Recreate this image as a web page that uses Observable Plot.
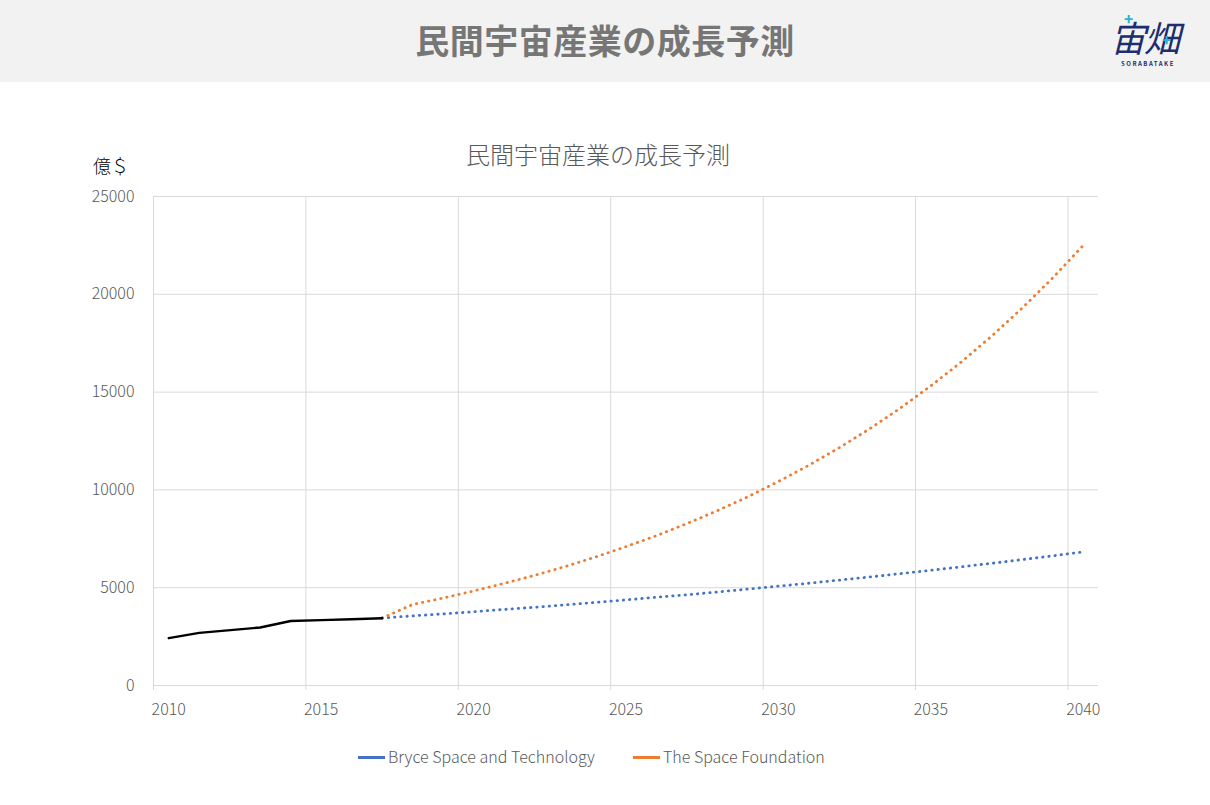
<!DOCTYPE html>
<html>
<head>
<meta charset="utf-8">
<script src="https://cdn.jsdelivr.net/npm/d3@7"></script>
<script src="https://cdn.jsdelivr.net/npm/@observablehq/plot@0.6"></script>
<style>
  html, body { margin: 0; padding: 0; background: #fff; }
  body { font-family: "Noto Sans CJK JP", "Noto Sans", sans-serif; }
  #page { position: relative; width: 1210px; height: 805px; overflow: hidden; }
  #header { position: absolute; left: 0; top: 0; width: 1210px; height: 82px; background: #f2f2f2; }
  #header h1 { margin: 0; position: absolute; left: 0; width: 1210px; top: 16px; text-align: center;
    font-size: 34px; line-height: 48px; font-weight: 700; color: #767676; letter-spacing: 0.5px; }
  #logo { position: absolute; left: 1112px; top: 14px; width: 76px; height: 58px; }
  #logo .kanji { position: absolute; left: 2px; top: 0; font-size: 36px; line-height: 44px; font-weight: 400;
    color: #1f2d6e; transform: skewX(-14deg); letter-spacing: -2px; }
  #logo .plus { position: absolute; color: #2bb3d4; font-weight: 900; font-size: 15px; line-height: 15px; }
  #logo .sub { position: absolute; left: 0; top: 45px; width: 72px; text-align: center; font-size: 6px;
    font-weight: 700; letter-spacing: 1.5px; color: #1f2d6e; }
  #ctitle { position: absolute; left: 0; width: 1196px; top: 137px; text-align: center; font-size: 24px;
    line-height: 34px; color: #595959; font-weight: 300; }
  #yunit { position: absolute; left: 93px; top: 152px; font-size: 18px; line-height: 26px; color: #000; font-weight: 300; }
  #chart { position: absolute; left: 0; top: 82px; }
  #legend { position: absolute; top: 743px; left: 0; width: 1210px; height: 26px; font-size: 16px; color: #595959; font-weight: 300; }
  .li { position: absolute; top: 0; line-height: 26px; white-space: nowrap; }
  .sw { display: inline-block; width: 27px; height: 3px; vertical-align: middle; margin-right: 3px; position: relative; top: -1px; }
</style>
</head>
<body>
<div id="page">
  <div id="header">
    <h1>民間宇宙産業の成長予測</h1>
    <div id="logo">
      <div class="kanji">宙畑</div>
      <div class="plus" style="left:12px; top:-3px;">+</div>
      <div class="plus" style="left:50px; top:18px;">+</div>
      <div class="sub">SORABATAKE</div>
    </div>
  </div>
  <div id="ctitle">民間宇宙産業の成長予測</div>
  <div id="yunit">億＄</div>
  <div id="chart"></div>
  <div id="legend">
    <div class="li" style="left:358px;"><span class="sw" style="background:#4472C4"></span>Bryce Space and Technology</div>
    <div class="li" style="left:633px;"><span class="sw" style="background:#ED7D31"></span>The Space Foundation</div>
  </div>
</div>
<script>
// Historical market size (億$)
const histYears  = [2010, 2011, 2013, 2014, 2015, 2016, 2017];
const histValues = [2420, 2690, 2965, 3300, 3340, 3390, 3440];

// Forecast years
const forecastYears = [2017, 2018, 2019, 2020, 2021, 2022, 2023, 2024, 2025, 2026, 2027, 2028,
                       2029, 2030, 2031, 2032, 2033, 2034, 2035, 2036, 2037, 2038, 2039, 2040];
// Bryce Space and Technology forecast
const bryceValues = [3450, 3560, 3660, 3770, 3890, 4000, 4120, 4250, 4380, 4510, 4640, 4780,
                     4930, 5080, 5230, 5390, 5550, 5720, 5890, 6070, 6250, 6440, 6630, 6830];
// The Space Foundation forecast
const foundationValues = [3450, 4140, 4470, 4830, 5220, 5630, 6080, 6570, 7100, 7660, 8280, 8940,
                          9650, 10430, 11260, 12160, 13130, 14180, 15320, 16540, 17870, 19300, 20840, 22500];

// Axis tick labels / gridlines
const xLabels = [2010, 2015, 2020, 2025, 2030, 2035, 2040];
const xGrid = [2009.5, 2014.5, 2019.5, 2024.5, 2029.5, 2034.5, 2039.5];
const yTicks = [0, 5000, 10000, 15000, 20000, 25000];

const hist = histYears.map((y, i) => ({year: y, value: histValues[i]}));
const bryce = forecastYears.map((y, i) => ({year: y, value: bryceValues[i]}));
const foundation = forecastYears.map((y, i) => ({year: y, value: foundationValues[i]}));

const grid = "#d9d9d9";
const chart = Plot.plot({
  width: 1210,
  height: 650,
  marginTop: 114,
  marginBottom: 47,
  marginLeft: 153,
  marginRight: 112,
  style: {fontFamily: "'Noto Sans CJK JP', 'Noto Sans', sans-serif", fontWeight: 300, background: "transparent", overflow: "visible"},
  x: {domain: [2009.5, 2040.5], axis: null, label: null},
  y: {domain: [0, 25000], axis: null, label: null},
  marks: [
    Plot.gridY(yTicks, {stroke: grid, strokeOpacity: 1, strokeWidth: 1}),
    Plot.gridX(xGrid, {stroke: grid, strokeOpacity: 1, strokeWidth: 1}),
    Plot.axisX(xGrid, {tickSize: 5, tickFormat: () => "", stroke: grid, strokeOpacity: 1, label: null}),
    Plot.axisX(xLabels, {tickSize: 0, tickPadding: 18, tickFormat: d => String(d), fontSize: 16, fill: "#595959", label: null}),
    Plot.axisY(yTicks, {tickSize: 0, tickPadding: 19, tickFormat: d => String(d), fontSize: 16, fill: "#595959", label: null}),
    Plot.line(bryce, {x: "year", y: "value", stroke: "#4472C4", strokeWidth: 2.8, strokeLinecap: "round", strokeDasharray: "0.4 5.8"}),
    Plot.line(foundation, {x: "year", y: "value", stroke: "#ED7D31", strokeWidth: 2.8, strokeLinecap: "round", strokeDasharray: "0.4 5.8"}),
    Plot.line(hist, {x: "year", y: "value", stroke: "#000", strokeWidth: 2.4, curve: "linear"})
  ]
});
document.getElementById("chart").appendChild(chart);
</script>
</body>
</html>
